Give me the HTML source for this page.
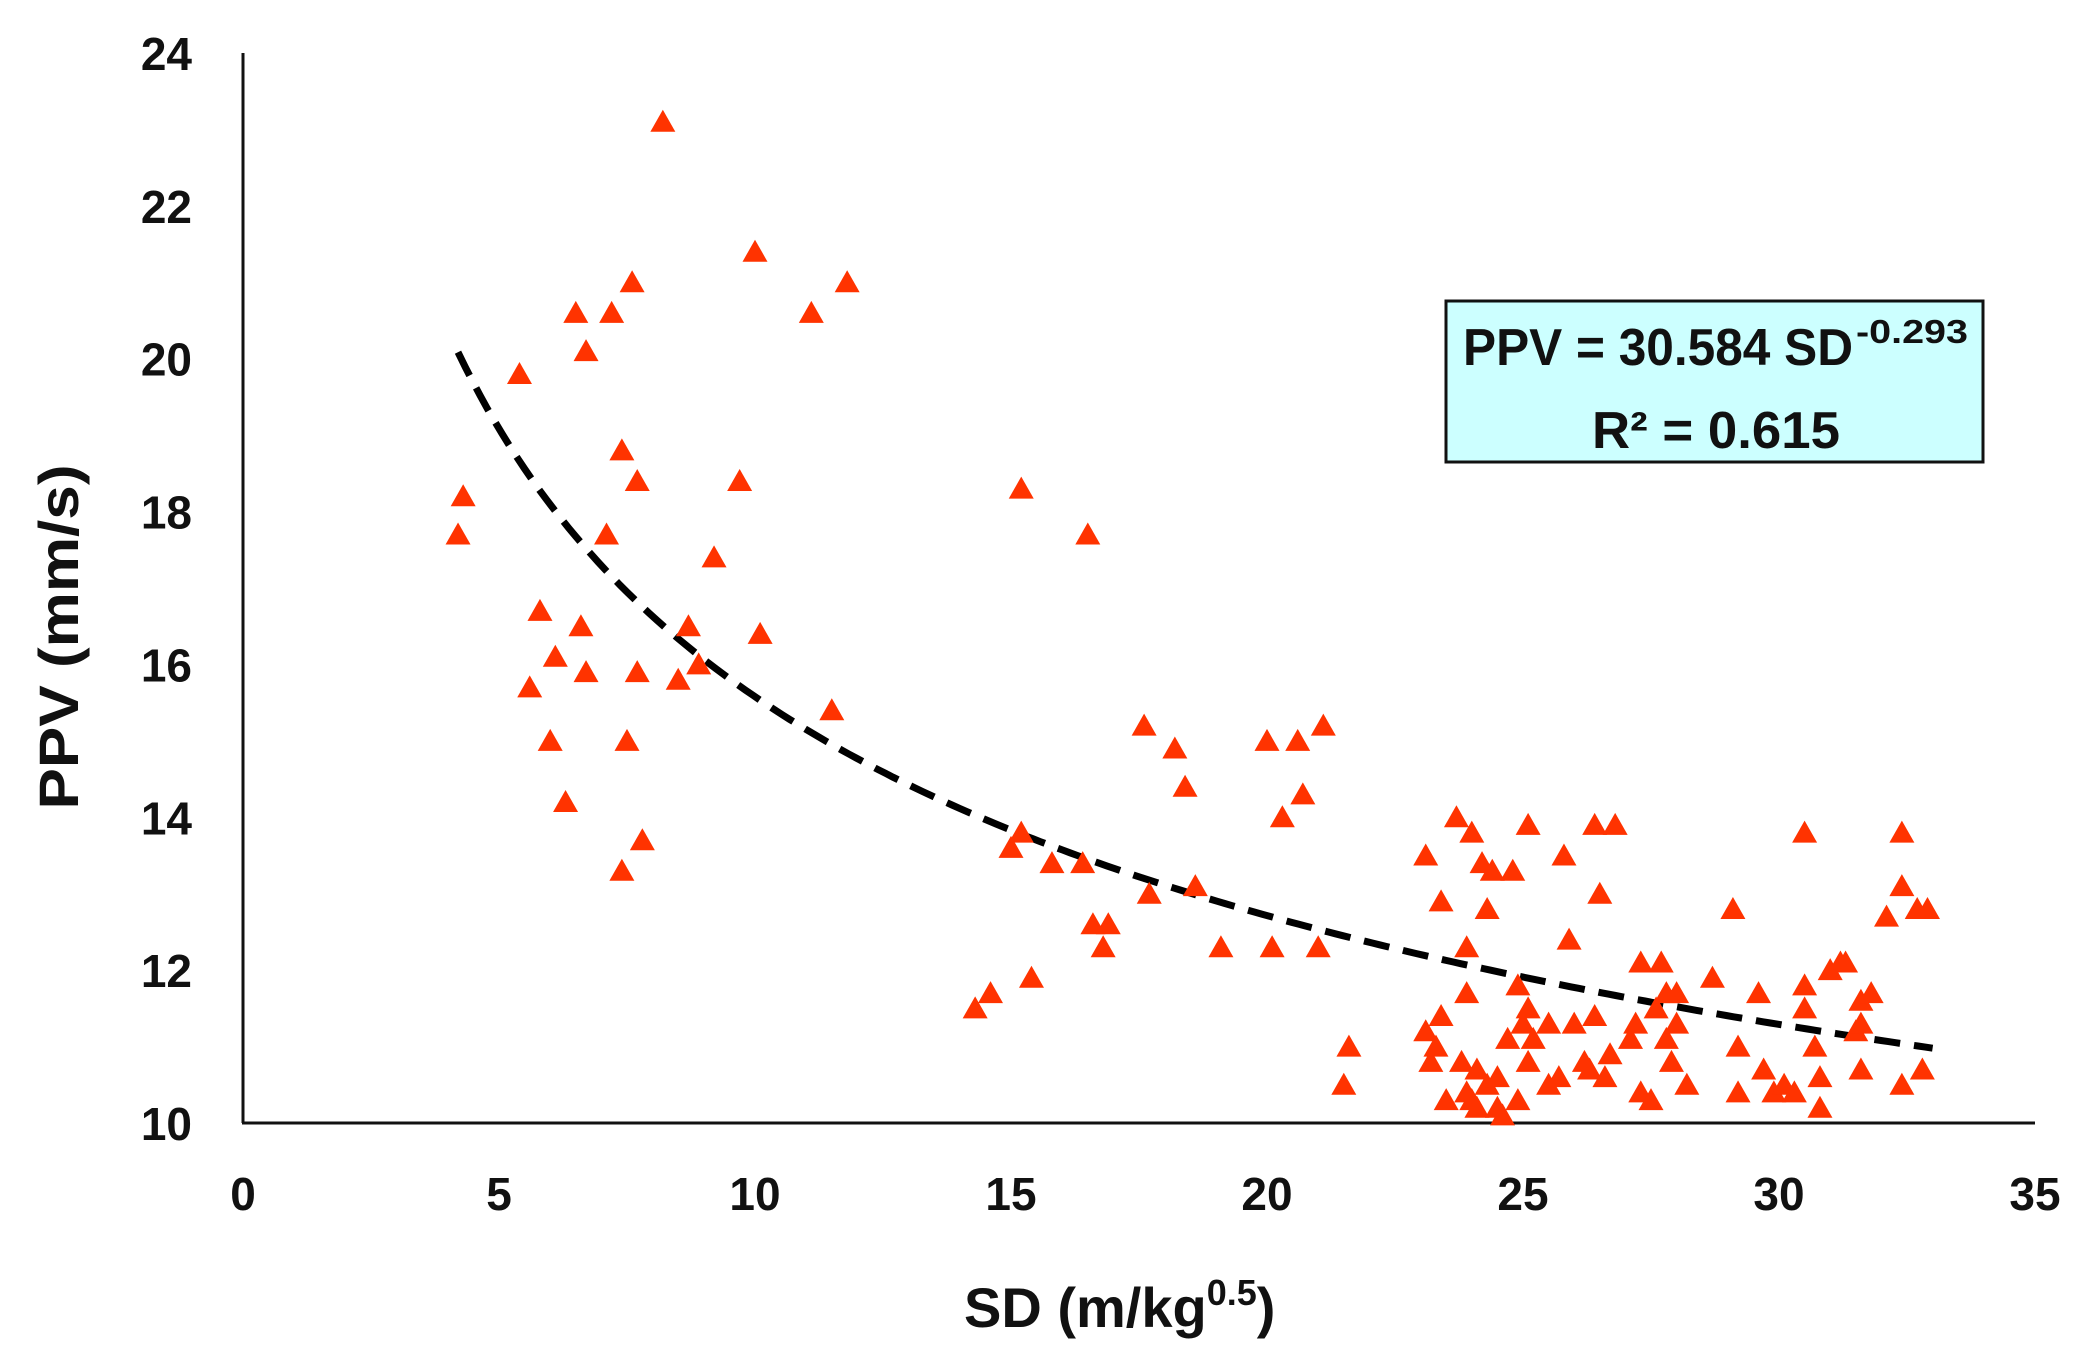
<!DOCTYPE html>
<html><head><meta charset="utf-8">
<style>
html,body{margin:0;padding:0;background:#fff;}
svg{display:block;}
text{font-family:"Liberation Sans",sans-serif;font-weight:bold;fill:#111;}
</style></head>
<body>
<svg id="chart" width="2078" height="1366" viewBox="0 0 2078 1366" xmlns="http://www.w3.org/2000/svg">
<g id="grid"></g>
<g id="trend"></g>
<g id="pts"></g>
<text x="0" y="0" transform="translate(78,637) rotate(-90)" text-anchor="middle" font-size="56" textLength="345" lengthAdjust="spacingAndGlyphs">PPV (mm/s)</text>
<text x="964" y="1327" font-size="56">SD (m/kg<tspan font-size="36" dy="-22">0.5</tspan><tspan dy="22">)</tspan></text>
<g>
<rect x="1446" y="301" width="537" height="161" fill="#ccffff" stroke="#111" stroke-width="3"/>
<text x="1463" y="365" font-size="52" textLength="390" lengthAdjust="spacingAndGlyphs">PPV = 30.584 SD</text>
<text x="1856" y="343" font-size="33" textLength="112" lengthAdjust="spacingAndGlyphs">-0.293</text>
<text x="1592" y="448" font-size="52" textLength="248" lengthAdjust="spacingAndGlyphs">R² = 0.615</text>
</g>
</svg>
<script>
const xTicks = [0,5,10,15,20,25,30,35];
const yTicks = [10,12,14,16,18,20,22,24];
const sdValues = [4.2,4.3,5.4,5.6,5.8,6.0,6.1,6.3,6.5,6.6,6.7,6.7,7.1,7.2,7.4,7.4,7.5,7.6,7.7,7.7,7.8,8.2,8.5,8.7,8.9,9.2,9.7,10.0,10.1,11.1,11.5,11.8,
14.3,14.6,15.0,15.2,15.2,15.4,15.8,16.4,16.5,16.6,16.8,16.9,17.6,17.7,18.2,18.4,18.6,19.1,20.0,20.1,20.3,20.6,20.7,21.0,21.1,21.5,21.6,
23.1,23.1,23.2,23.3,23.4,23.4,23.5,23.7,23.8,23.9,23.9,23.9,24.0,24.0,24.1,24.1,24.2,24.3,24.3,24.4,24.5,24.5,24.6,24.7,24.8,24.9,24.9,25.0,25.1,25.1,25.1,25.2,25.5,25.5,25.7,25.8,25.9,26.0,26.2,26.3,26.4,26.4,26.5,26.6,26.7,26.8,27.1,27.2,27.3,27.3,27.5,27.6,27.7,27.8,27.8,27.9,28.0,28.0,28.2,28.7,29.1,29.2,29.2,29.6,29.7,29.9,30.1,30.3,30.5,30.5,30.5,30.7,30.8,30.8,31.0,31.2,31.3,31.5,31.6,31.6,31.6,31.8,32.1,32.4,32.4,32.4,32.7,32.8,32.9];
const ppvValues = [17.7,18.2,19.8,15.7,16.7,15.0,16.1,14.2,20.6,16.5,20.1,15.9,17.7,20.6,18.8,13.3,15.0,21.0,15.9,18.4,13.7,23.1,15.8,16.5,16.0,17.4,18.4,21.4,16.4,20.6,15.4,21.0,
11.5,11.7,13.6,13.8,18.3,11.9,13.4,13.4,17.7,12.6,12.3,12.6,15.2,13.0,14.9,14.4,13.1,12.3,15.0,12.3,14.0,15.0,14.3,12.3,15.2,10.5,11.0,
13.5,11.2,10.8,11.0,11.4,12.9,10.3,14.0,10.8,12.3,11.7,10.4,10.3,13.8,10.7,10.2,13.4,10.5,12.8,13.3,10.2,10.6,10.1,11.1,13.3,11.8,10.3,11.3,11.5,10.8,13.9,11.1,11.3,10.5,10.6,13.5,12.4,11.3,10.8,10.7,11.4,13.9,13.0,10.6,10.9,13.9,11.1,11.3,10.4,12.1,10.3,11.5,12.1,11.1,11.7,10.8,11.3,11.7,10.5,11.9,12.8,11.0,10.4,11.7,10.7,10.4,10.5,10.4,11.5,11.8,13.8,11.0,10.2,10.6,12.0,12.1,12.1,11.2,11.3,11.6,10.7,11.7,12.7,10.5,13.1,13.8,12.8,10.7,12.8];
const fitCoef = 30.584, fitExp = -0.293, fitRange = [4.2, 33];

const NS = "http://www.w3.org/2000/svg";
const X0 = 243, X1 = 2035, Y0 = 1123, Y1 = 53;
function sx(v){ return X0 + (v - 0) / 35 * (X1 - X0); }
function sy(v){ return Y0 - (v - 10) / 14 * (Y0 - Y1); }
function mk(tag, attrs, parent){ const e = document.createElementNS(NS, tag); for (const k in attrs) e.setAttribute(k, attrs[k]); parent.appendChild(e); return e; }

const grid = document.getElementById('grid');
const yAxis = mk('line', {x1:X0, y1:Y1, x2:X0, y2:Y0, stroke:'#111', 'stroke-width':3}, grid);


const xAxis = mk('line', {x1:X0-1, y1:Y0, x2:X1, y2:Y0, stroke:'#111', 'stroke-width':3}, grid);


xTicks.forEach(t => {
  const e = mk('text', {x:sx(t), y:1210, 'text-anchor':'middle', 'font-size':46}, grid);
  e.textContent = t;
  
  
});
yTicks.forEach(t => {
  const e = mk('text', {x:192, y:sy(t)+17, 'text-anchor':'end', 'font-size':46}, grid);
  e.textContent = t;
  
  
});

const trend = document.getElementById('trend');
let d = '';
for (let i = 0; i <= 200; i++) {
  const x = fitRange[0] + (fitRange[1] - fitRange[0]) * i / 200;
  const y = fitCoef * Math.pow(x, fitExp);
  d += (i ? 'L' : 'M') + sx(x).toFixed(1) + ',' + sy(y).toFixed(1);
}
const tp = mk('path', {d:d, fill:'none', stroke:'#000', 'stroke-width':7, 'stroke-dasharray':'26 14'}, trend);



const pts = document.getElementById('pts');
sdValues.forEach((x, i) => {
  const cx = sx(x), cy = sy(ppvValues[i]);
  const p = mk('polygon', {points:`${cx},${cy-12} ${cx-12.5},${cy+10} ${cx+12.5},${cy+10}`, fill:'#ff3300'}, pts);
  
  
});
</script>
</body></html>
